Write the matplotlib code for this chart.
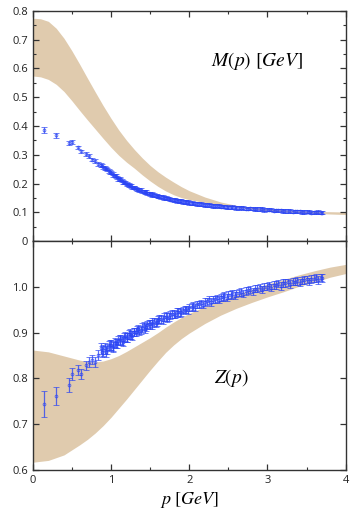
import numpy as np
import matplotlib
matplotlib.use("Agg")
import matplotlib.pyplot as plt
from matplotlib.ticker import MultipleLocator, FixedLocator, FormatStrFormatter

plt.rcParams["font.family"] = ["Open Sans", "DejaVu Sans"]
plt.rcParams["mathtext.fontset"] = "stix"

# ---------- lattice data, first set of momenta ----------
p_lat = [0.14, 0.30, 0.46, 0.50, 0.58, 0.62, 0.68, 0.72, 0.76, 0.80, 0.84, 0.87,
         0.90, 0.94, 0.97, 1.00, 1.03, 1.06, 1.09, 1.12, 1.15, 1.18, 1.21, 1.24,
         1.27, 1.30, 1.33, 1.36, 1.40, 1.43, 1.46, 1.50, 1.53, 1.57, 1.60, 1.64,
         1.68, 1.72, 1.76, 1.80, 1.84, 1.88, 1.92, 1.96, 2.00, 2.05, 2.10, 2.15,
         2.20, 2.25, 2.30, 2.35, 2.40, 2.45, 2.50, 2.55, 2.60, 2.66, 2.72, 2.78,
         2.84, 2.90, 2.96, 3.02, 3.08, 3.14, 3.20, 3.26, 3.32, 3.38, 3.44, 3.50,
         3.56, 3.62, 3.68]

M_lat = [0.385, 0.367, 0.341, 0.343, 0.326, 0.312, 0.302, 0.296, 0.283, 0.278, 0.268, 0.265,
         0.256, 0.252, 0.243, 0.238, 0.228, 0.226, 0.216, 0.214, 0.206, 0.203, 0.196, 0.194,
         0.187, 0.186, 0.180, 0.178, 0.173, 0.171, 0.166, 0.164, 0.160, 0.158, 0.154, 0.153,
         0.149, 0.148, 0.144, 0.143, 0.139, 0.139, 0.135, 0.135, 0.132, 0.131, 0.128, 0.128,
         0.125, 0.125, 0.122, 0.123, 0.120, 0.120, 0.117, 0.118, 0.115, 0.116, 0.113, 0.114,
         0.111, 0.111, 0.108, 0.109, 0.106, 0.107, 0.104, 0.105, 0.102, 0.103, 0.101, 0.102,
         0.099, 0.100, 0.099]

M_err = [0.011, 0.007, 0.008, 0.007, 0.006, 0.006, 0.006, 0.006, 0.006, 0.006, 0.006, 0.006,
         0.006, 0.006, 0.006, 0.006, 0.006, 0.006, 0.006, 0.006, 0.006, 0.006, 0.006, 0.006,
         0.006, 0.006, 0.006, 0.006, 0.006, 0.006, 0.006, 0.006, 0.006, 0.006, 0.006, 0.006,
         0.006, 0.006, 0.006, 0.006, 0.006, 0.006, 0.006, 0.006, 0.006, 0.006, 0.006, 0.006,
         0.006, 0.006, 0.006, 0.006, 0.006, 0.006, 0.006, 0.006, 0.006, 0.006, 0.006, 0.006,
         0.006, 0.006, 0.006, 0.006, 0.006, 0.006, 0.006, 0.006, 0.006, 0.006, 0.006, 0.006,
         0.006, 0.006, 0.006]

Z_lat = [0.744, 0.761, 0.785, 0.809, 0.818, 0.809, 0.829, 0.836, 0.841, 0.836, 0.851, 0.866,
         0.862, 0.858, 0.870, 0.873, 0.868, 0.877, 0.882, 0.885, 0.880, 0.892, 0.890, 0.897,
         0.893, 0.902, 0.905, 0.903, 0.911, 0.909, 0.916, 0.918, 0.922, 0.921, 0.928, 0.929,
         0.934, 0.933, 0.939, 0.940, 0.944, 0.944, 0.948, 0.951, 0.955, 0.958, 0.962, 0.964,
         0.967, 0.971, 0.972, 0.975, 0.977, 0.980, 0.982, 0.984, 0.986, 0.989, 0.991, 0.994,
         0.996, 0.999, 1.000, 1.003, 1.004, 1.007, 1.008, 1.010, 1.011, 1.013, 1.014, 1.016,
         1.017, 1.019, 1.020]

Z_err = [0.029, 0.020, 0.015, 0.013, 0.011, 0.011, 0.010, 0.010, 0.010, 0.010, 0.011, 0.012,
         0.012, 0.012, 0.011, 0.011, 0.011, 0.010, 0.010, 0.010, 0.010, 0.010, 0.010, 0.010,
         0.010, 0.009, 0.009, 0.009, 0.009, 0.009, 0.009, 0.009, 0.009, 0.009, 0.009, 0.009,
         0.009, 0.009, 0.009, 0.009, 0.009, 0.009, 0.008, 0.008, 0.008, 0.008, 0.008, 0.008,
         0.008, 0.008, 0.008, 0.008, 0.008, 0.008, 0.008, 0.008, 0.008, 0.008, 0.008, 0.008,
         0.008, 0.008, 0.008, 0.008, 0.008, 0.008, 0.008, 0.008, 0.008, 0.008, 0.008, 0.008,
         0.008, 0.008, 0.008]

# ---------- lattice data, second set of momenta ----------
p_lat2 = [0.88, 0.92, 0.95, 0.99, 1.02, 1.05, 1.08, 1.11, 1.14, 1.17, 1.20, 1.23,
          1.26, 1.29, 1.32, 1.35, 1.38, 1.42, 1.45, 1.48, 1.52, 1.55, 1.59, 1.62,
          1.66, 1.70, 1.74, 1.78, 1.82, 1.86, 1.90, 1.94, 1.98, 2.03, 2.08, 2.13,
          2.18, 2.23, 2.28, 2.33, 2.38, 2.43, 2.48, 2.53, 2.58, 2.63, 2.69, 2.75,
          2.81, 2.87, 2.93, 2.99, 3.05, 3.11, 3.17, 3.23, 3.29, 3.35, 3.41, 3.47,
          3.53, 3.59, 3.65, 3.70]

M_lat2 = [0.262, 0.254, 0.249, 0.240, 0.234, 0.227, 0.221, 0.215, 0.210, 0.204, 0.200, 0.195,
          0.191, 0.186, 0.183, 0.179, 0.177, 0.172, 0.170, 0.166, 0.163, 0.160, 0.158, 0.155,
          0.153, 0.149, 0.148, 0.144, 0.143, 0.140, 0.139, 0.136, 0.135, 0.132, 0.131, 0.128,
          0.127, 0.125, 0.124, 0.122, 0.122, 0.120, 0.119, 0.117, 0.117, 0.115, 0.115, 0.113,
          0.113, 0.111, 0.111, 0.109, 0.109, 0.107, 0.107, 0.105, 0.105, 0.103, 0.103, 0.101,
          0.102, 0.100, 0.101, 0.099]

M_err2 = [0.006, 0.006, 0.006, 0.006, 0.006, 0.006, 0.006, 0.006, 0.006, 0.006, 0.006, 0.006,
          0.006, 0.006, 0.006, 0.006, 0.006, 0.006, 0.006, 0.006, 0.006, 0.006, 0.006, 0.006,
          0.006, 0.006, 0.006, 0.006, 0.006, 0.006, 0.006, 0.006, 0.006, 0.006, 0.006, 0.006,
          0.006, 0.006, 0.006, 0.006, 0.006, 0.006, 0.006, 0.006, 0.006, 0.006, 0.006, 0.006,
          0.006, 0.006, 0.006, 0.006, 0.006, 0.006, 0.006, 0.006, 0.006, 0.006, 0.006, 0.006,
          0.006, 0.006, 0.006, 0.006]

Z_lat2 = [0.858, 0.866, 0.864, 0.872, 0.871, 0.878, 0.877, 0.884, 0.883, 0.890, 0.889, 0.896,
          0.895, 0.902, 0.901, 0.908, 0.906, 0.914, 0.912, 0.919, 0.918, 0.924, 0.923, 0.929,
          0.928, 0.935, 0.934, 0.940, 0.939, 0.945, 0.944, 0.950, 0.949, 0.956, 0.955, 0.962,
          0.961, 0.968, 0.967, 0.973, 0.972, 0.978, 0.976, 0.982, 0.981, 0.987, 0.985, 0.992,
          0.990, 0.996, 0.994, 1.000, 0.998, 1.004, 1.002, 1.008, 1.006, 1.011, 1.009, 1.015,
          1.012, 1.018, 1.015, 1.019]

Z_err2 = [0.012, 0.012, 0.011, 0.011, 0.011, 0.010, 0.010, 0.010, 0.010, 0.010, 0.010, 0.010,
          0.009, 0.009, 0.009, 0.009, 0.009, 0.009, 0.009, 0.009, 0.009, 0.009, 0.009, 0.009,
          0.009, 0.009, 0.009, 0.009, 0.008, 0.008, 0.008, 0.008, 0.008, 0.008, 0.008, 0.008,
          0.008, 0.008, 0.008, 0.008, 0.008, 0.008, 0.008, 0.008, 0.008, 0.008, 0.008, 0.008,
          0.008, 0.008, 0.008, 0.008, 0.008, 0.008, 0.008, 0.008, 0.008, 0.008, 0.008, 0.008,
          0.008, 0.008, 0.008, 0.008]

# ---------- model bands ----------
p_bandM = [0.0, 0.1, 0.2, 0.3, 0.4, 0.5, 0.6, 0.7, 0.8, 0.9, 1.0, 1.1, 1.2, 1.3, 1.4,
           1.5, 1.6, 1.7, 1.8, 1.9, 2.0, 2.2, 2.4, 2.6, 2.8, 3.0, 3.3, 3.6, 4.0]
M_low = [0.574, 0.571, 0.562, 0.545, 0.520, 0.488, 0.454, 0.421, 0.389, 0.357, 0.326, 0.298,
         0.274, 0.253, 0.230, 0.209, 0.190, 0.174, 0.161, 0.151, 0.144, 0.134, 0.126, 0.118,
         0.111, 0.105, 0.100, 0.096, 0.092]
M_up = [0.775, 0.773, 0.764, 0.740, 0.705, 0.662, 0.615, 0.566, 0.518, 0.471, 0.427, 0.386,
        0.350, 0.318, 0.289, 0.263, 0.241, 0.222, 0.205, 0.189, 0.175, 0.153, 0.136, 0.124,
        0.117, 0.112, 0.106, 0.103, 0.101]

p_bandZ = [0.0, 0.2, 0.4, 0.6, 0.7, 0.8, 0.9, 1.0, 1.1, 1.2, 1.3, 1.4, 1.5, 1.6, 1.7,
           1.8, 1.9, 2.0, 2.2, 2.4, 2.6, 2.8, 3.0, 3.2, 3.4, 3.6, 3.8, 4.0]
Z_up = [0.862, 0.858, 0.849, 0.840, 0.837, 0.836, 0.838, 0.843, 0.850, 0.859, 0.869, 0.879,
        0.889, 0.900, 0.912, 0.923, 0.933, 0.942, 0.957, 0.970, 0.983, 0.995, 1.006, 1.016,
        1.026, 1.035, 1.043, 1.049]
Z_low = [0.617, 0.621, 0.633, 0.655, 0.667, 0.681, 0.697, 0.715, 0.735, 0.755, 0.776, 0.797,
         0.818, 0.838, 0.857, 0.873, 0.887, 0.899, 0.920, 0.938, 0.953, 0.966, 0.978, 0.989,
         1.001, 1.010, 1.021, 1.029]

# ---------- style ----------
band_c = "#e0cbae"
blue = "#2a44f4"
spine_c = "#333333"

fig = plt.figure(figsize=(3.57, 5.16), dpi=100)
ax1 = fig.add_axes([0.0916, 0.5329, 0.8768, 0.4458])
ax2 = fig.add_axes([0.0916, 0.0891, 0.8768, 0.4438], sharex=ax1)

def style(ax):
    for s in ax.spines.values():
        s.set_color(spine_c)
        s.set_linewidth(1.0)
    ax.tick_params(which="both", direction="in", top=True, right=True,
                   colors=spine_c, labelsize=8, labelcolor="#222222")
    ax.tick_params(which="major", length=4, width=0.9)
    ax.tick_params(which="minor", length=2.5, width=0.8)
    ax.xaxis.set_major_locator(MultipleLocator(1))
    ax.xaxis.set_minor_locator(MultipleLocator(0.5))

ebkw = dict(fmt="o", ms=2.0, mfc="none", mew=0.6, color=blue, ecolor=blue,
            elinewidth=0.9, capsize=2.2, capthick=0.9, alpha=0.78, zorder=3)

# top: M(p)
ax1.fill_between(p_bandM, M_low, M_up, color=band_c, lw=0, zorder=1)
ax1.errorbar(p_lat, M_lat, yerr=M_err, **ebkw)
ax1.errorbar(p_lat2, M_lat2, yerr=M_err2, **ebkw)
ax1.set_xlim(0, 4)
ax1.set_ylim(0, 0.8)
style(ax1)
ax1.yaxis.set_major_locator(MultipleLocator(0.1))
ax1.yaxis.set_minor_locator(MultipleLocator(0.05))
ax1.yaxis.set_major_formatter(plt.FuncFormatter(lambda v, _: "0" if abs(v) < 1e-9 else f"{v:.1f}"))
ax1.tick_params(labelbottom=False)
ax1.text(2.87, 0.627, r"$M(p)\ [GeV]$", fontsize=14, ha="center", va="center")

# bottom: Z(p)
ax2.fill_between(p_bandZ, Z_low, Z_up, color=band_c, lw=0, zorder=1)
ax2.errorbar(p_lat, Z_lat, yerr=Z_err, **ebkw)
ax2.errorbar(p_lat2, Z_lat2, yerr=Z_err2, **ebkw)
ax2.set_ylim(0.6, 1.1)
style(ax2)
ax2.yaxis.set_major_locator(FixedLocator([0.6, 0.7, 0.8, 0.9, 1.0]))
ax2.yaxis.set_major_formatter(FormatStrFormatter("%.1f"))
ax2.text(2.54, 0.800, r"$Z(p)$", fontsize=14, ha="center", va="center")
ax2.set_xlabel(r"$p\ [GeV]$", fontsize=13, labelpad=3)

fig.savefig("out.png", dpi=100)
